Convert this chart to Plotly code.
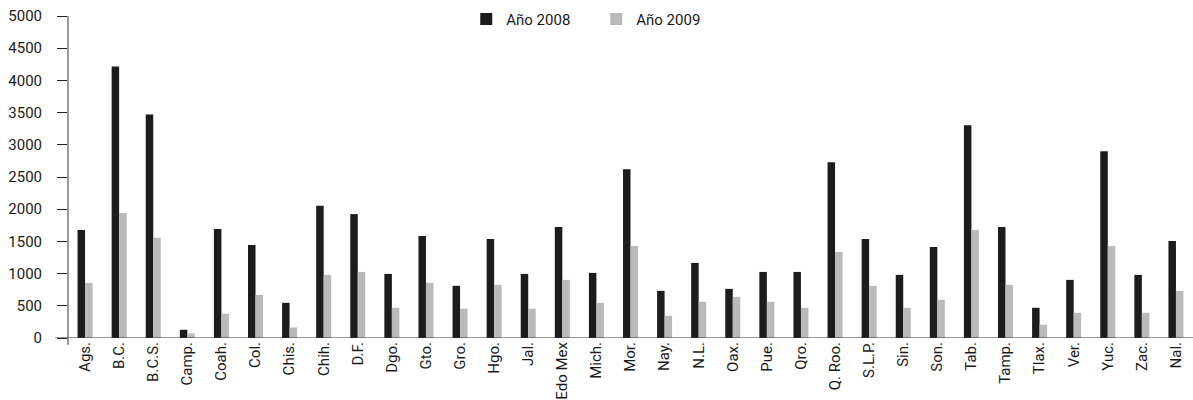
import plotly.graph_objects as go

categories = ["Ags.", "B.C.", "B.C.S.", "Camp.", "Coah.", "Col.", "Chis.", "Chih.", "D.F.", "Dgo.",
              "Gto.", "Gro.", "Hgo.", "Jal.", "Edo Mex", "Mich.", "Mor.", "Nay.", "N.L.", "Oax.",
              "Pue.", "Qro.", "Q. Roo.", "S.L.P.", "Sin.", "Son.", "Tab.", "Tamp.", "Tlax.", "Ver.",
              "Yuc.", "Zac.", "Nal."]
anio_2008 = [1676, 4215, 3472, 128, 1692, 1444, 546, 2053, 1924, 995,
             1584, 810, 1537, 995, 1723, 1011, 2621, 732, 1166, 763,
             1026, 1026, 2729, 1537, 980, 1413, 3302, 1723, 469, 902,
             2899, 980, 1506]
anio_2009 = [856, 1940, 1557, 71, 376, 670, 164, 980, 1026, 469,
             856, 454, 825, 454, 902, 546, 1429, 345, 562, 639,
             562, 469, 1336, 810, 469, 593, 1676, 825, 206, 392,
             1429, 392, 732]
y_ticks = [0, 500, 1000, 1500, 2000, 2500, 3000, 3500, 4000, 4500, 5000]

FONT = "Roboto, Liberation Sans Narrow, DejaVu Sans Condensed, sans-serif"
TXT = "#1a1a1a"

fig = go.Figure()
fig.add_trace(go.Bar(name="Año 2008", x=categories, y=anio_2008, marker_color="#1c1c1c",
                     marker_line_width=0))
fig.add_trace(go.Bar(name="Año 2009", x=categories, y=anio_2009, marker_color="#bababa",
                     marker_line_width=0))

fig.update_layout(
    width=1193, height=400,
    margin=dict(l=68, r=0, t=16, b=62, autoexpand=False),
    paper_bgcolor="white", plot_bgcolor="white",
    barmode="group", bargap=0.56, bargroupgap=0,
    font=dict(family=FONT, size=15, color=TXT),
    showlegend=True,
    legend=dict(orientation="h", x=0.354, y=0.99, xanchor="left", yanchor="middle",
                bgcolor="rgba(0,0,0,0)", font=dict(size=15, color=TXT),
                entrywidth=85, entrywidthmode="pixels"),
    xaxis=dict(showgrid=False, showline=False, ticks="", tickangle=-90, automargin=False,
               tickfont=dict(size=15, color=TXT), range=[-0.5, 32.5], zeroline=False),
    yaxis=dict(range=[0, 5000], tickvals=y_ticks, showgrid=False, showline=False, zeroline=False,
               ticks="outside", ticklen=10, tickwidth=1, tickcolor="#222", automargin=False,
               ticklabelstandoff=12, tickfont=dict(size=15, color=TXT)),
    shapes=[
        dict(type="line", xref="paper", yref="y", x0=-0.0116, x1=1, y0=0, y1=0,
             line=dict(color="#333", width=1)),
        dict(type="line", xref="paper", yref="paper", x0=0, x1=0, y0=-0.021, y1=1,
             line=dict(color="#333", width=1)),
    ],
)

fig.write_html("out.html",
               config={"displayModeBar": False},
               post_script="document.body.style.margin='0';document.body.style.overflow='hidden';")
